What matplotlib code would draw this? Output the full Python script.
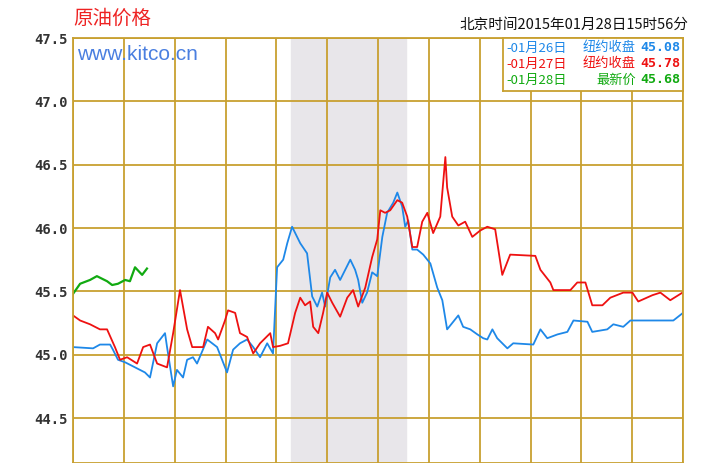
import matplotlib
matplotlib.use('Agg')
import matplotlib.pyplot as plt

plt.rcParams['font.family'] = ['Noto Sans CJK SC', 'DejaVu Sans']

# ==================== 資料 ====================
# 時間（小時，0~24），價格
jan26_h = [0, .79, 1.06, 1.46, 1.57, 1.77, 2.05, 2.44, 2.83, 3.03, 3.31, 3.62, 3.70, 3.94, 4.09,
           4.33, 4.49, 4.72, 4.88, 5.28, 5.67, 6.06, 6.30, 6.57, 6.85, 7.09, 7.36, 7.64, 7.87,
           8.03, 8.27, 8.43, 8.62, 8.94, 9.21, 9.41, 9.61, 9.80, 9.92, 10.12, 10.31, 10.51, 10.71,
           10.91, 11.10, 11.22, 11.38, 11.57, 11.77, 11.97, 12.17, 12.36, 12.60, 12.76, 12.95,
           13.07, 13.19, 13.35, 13.54, 13.78, 14.06, 14.33, 14.53, 14.72, 14.92, 15.16, 15.35,
           15.63, 15.91, 16.14, 16.30, 16.50, 16.69, 17.09, 17.32, 18.11, 18.39, 18.66, 19.06,
           19.45, 19.69, 20.24, 20.43, 21.02, 21.26, 21.65, 21.93, 22.99, 23.62, 24.0]
jan26_p = [45.06, 45.05, 45.08, 45.08, 45.04, 44.96, 44.94, 44.90, 44.86, 44.82, 45.09, 45.17,
           45.06, 44.75, 44.88, 44.82, 44.96, 44.98, 44.93, 45.12, 45.06, 44.86, 45.04, 45.09,
           45.12, 45.06, 44.98, 45.09, 45.01, 45.69, 45.75, 45.88, 46.01, 45.88, 45.80, 45.46,
           45.38, 45.49, 45.38, 45.61, 45.67, 45.59, 45.67, 45.75, 45.67, 45.59, 45.41, 45.49,
           45.65, 45.62, 45.93, 46.12, 46.20, 46.28, 46.17, 46.01, 46.06, 45.83, 45.83, 45.79,
           45.72, 45.53, 45.43, 45.20, 45.25, 45.31, 45.22, 45.20, 45.16, 45.13, 45.12, 45.20,
           45.13, 45.05, 45.09, 45.08, 45.20, 45.13, 45.16, 45.18, 45.27, 45.26, 45.18, 45.20,
           45.24, 45.22, 45.27, 45.27, 45.27, 45.33]

jan27_h = [0, .28, .67, 1.06, 1.34, 1.65, 1.85, 2.13, 2.52, 2.76, 3.03, 3.31, 3.70, 3.94, 4.21, 4.49,
           4.69, 4.88, 5.12, 5.31, 5.59, 5.71, 5.98, 6.10, 6.38, 6.57, 6.85, 7.09, 7.36, 7.76, 7.87,
           8.15, 8.46, 8.74, 8.94, 9.13, 9.33, 9.45, 9.65, 9.84, 10.0, 10.20, 10.51, 10.79, 11.02,
           11.22, 11.50, 11.77, 11.97, 12.09, 12.28, 12.48, 12.76, 12.95, 13.15, 13.35, 13.54, 13.74,
           13.94, 14.17, 14.45, 14.65, 14.72, 14.92, 15.16, 15.43, 15.71, 16.02, 16.30, 16.61, 16.89,
           17.20, 18.19, 18.39, 18.78, 18.90, 19.57, 19.84, 20.16, 20.43, 20.83, 21.14, 21.65, 22.01,
           22.24, 22.80, 23.11, 23.50, 23.98]
jan27_p = [45.31, 45.27, 45.24, 45.20, 45.20, 45.06, 44.96, 44.98, 44.93, 45.06, 45.08, 44.93, 44.90,
           45.17, 45.51, 45.20, 45.06, 45.06, 45.06, 45.22, 45.17, 45.12, 45.27, 45.35, 45.33, 45.17,
           45.14, 45.01, 45.09, 45.17, 45.06, 45.07, 45.09, 45.33, 45.45, 45.39, 45.42, 45.22, 45.17,
           45.33, 45.49, 45.41, 45.30, 45.45, 45.51, 45.38, 45.53, 45.77, 45.91, 46.14, 46.12, 46.14,
           46.22, 46.20, 46.09, 45.85, 45.85, 46.05, 46.12, 45.96, 46.09, 46.56, 46.32, 46.09, 46.02,
           46.05, 45.93, 45.98, 46.01, 45.99, 45.63, 45.79, 45.78, 45.67, 45.57, 45.51, 45.51, 45.57,
           45.57, 45.39, 45.39, 45.45, 45.49, 45.49, 45.42, 45.47, 45.49, 45.43, 45.49]

jan28_h = [0, .28, .67, .94, 1.34, 1.54, 1.77, 2.05, 2.24, 2.44, 2.72, 2.91]
jan28_p = [45.48, 45.56, 45.59, 45.62, 45.58, 45.55, 45.56, 45.59, 45.58, 45.69, 45.63, 45.68]

legend_rows = [('-01月26日', '纽约收盘', '45.08', '#1e88e8'),
               ('-01月27日', '纽约收盘', '45.78', '#ee1111'),
               ('-01月28日', '最新价', '45.68', '#11aa11')]

grid_c = '#c8a030'

# ==================== 畫圖 ====================
fig = plt.figure(figsize=(7.2, 4.63), dpi=100)
ax = fig.add_axes([73 / 720, 0, 610 / 720, 1 - 38 / 463])
ax.set_xlim(0, 24)
ax.set_ylim(44.145, 47.5)
ax.axvspan(8.58, 13.11, color='#e8e6ea', zorder=0)
ax.set_xticks(range(0, 25, 2))
ax.set_yticks([44.5, 45.0, 45.5, 46.0, 46.5, 47.0, 47.5])
ax.set_yticklabels(['44.5', '45.0', '45.5', '46.0', '46.5', '47.0', '47.5'],
                   family='DejaVu Sans Mono', fontweight='bold', fontsize=10, color='#333333')
ax.set_xticklabels([])
ax.tick_params(length=0, pad=4)
ax.grid(True, color=grid_c, linewidth=1.3)
for s in ax.spines.values():
    s.set_color(grid_c)
    s.set_linewidth(1.3)

ax.plot(jan26_h, jan26_p, color='#1e88e8', lw=1.3)
ax.plot(jan27_h, jan27_p, color='#ee1111', lw=1.3)
ax.plot(jan28_h, jan28_p, color='#11aa11', lw=1.6)

# 標題文字
fig.text(73 / 720, 1 - 18 / 463, '原油价格', color='#ee2222', fontsize=14, va='center')
fig.text(688 / 720, 1 - 25 / 463, '北京时间2015年01月28日15时56分', fontsize=10.5,
         ha='right', va='center', color='#111111')
fig.text(77 / 720, 1 - 55 / 463, 'www.kitco.cn', color='#4a7fe0', fontsize=15,
         family='Liberation Sans', va='center')

# 圖例框
lg = fig.add_axes([503 / 720, 1 - 91 / 463, 180 / 720, 53 / 463])
lg.set_xticks([]); lg.set_yticks([])
lg.set_xlim(0, 180); lg.set_ylim(53, 0)
for s in lg.spines.values():
    s.set_color(grid_c)
    s.set_linewidth(1.3)
for i, (d, lab, v, c) in enumerate(legend_rows):
    y = 10 + i * 16
    lg.text(3, y, d, color=c, fontsize=9.5, va='center')
    lg.text(133, y, lab, color=c, fontsize=9.5, va='center', ha='right')
    lg.text(177, y, v, color=c, fontsize=9.5, va='center', ha='right',
            family='DejaVu Sans Mono', fontweight='bold')

plt.savefig('out.png')
